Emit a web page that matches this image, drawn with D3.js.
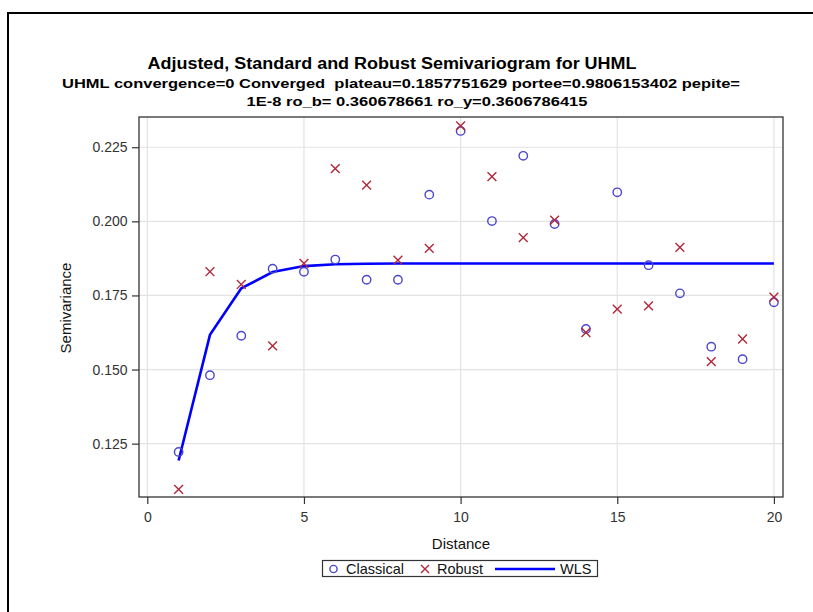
<!DOCTYPE html>
<html><head><meta charset="utf-8">
<script src="https://cdn.jsdelivr.net/npm/d3@7"></script>
<style>html,body{margin:0;padding:0;background:#fff;}svg{display:block;}text{white-space:pre;}</style>
</head><body>
<script>
const distances = [1,2,3,4,5,6,7,8,9,10,11,12,13,14,15,16,17,18,19,20];
const classical = [0.1222,0.1481,0.1614,0.1840,0.1830,0.1871,0.1803,0.1803,0.2090,0.2305,0.2001,0.2221,0.1991,0.1637,0.2098,0.1852,0.1757,0.1577,0.1535,0.1727];
const robust    = [0.1096,0.1830,0.1787,0.1580,0.1858,0.2178,0.2122,0.1869,0.1909,0.2322,0.2151,0.1945,0.2004,0.1625,0.1704,0.1715,0.1912,0.1527,0.1603,0.1744];
const wls       = [0.1193,0.1617,0.1774,0.1829,0.1849,0.1855,0.1857,0.1858,0.1858,0.1858,0.1858,0.1858,0.1858,0.1858,0.1858,0.1858,0.1858,0.1858,0.1858,0.1858];
const xTicks = [0,5,10,15,20];
const yTicks = [0.125,0.150,0.175,0.200,0.225];
const titleText = "Adjusted, Standard and Robust Semivariogram for UHML";
const subLine1 = "UHML convergence=0 Converged  plateau=0.1857751629 portee=0.9806153402 pepite=";
const subLine2 = "1E-8 ro_b= 0.360678661 ro_y=0.3606786415";
const legendLabels = ["Classical","Robust","WLS"];

const W = 813, H = 612;
const P = {left:139, top:117, right:783, bottom:497};
const font = "'Liberation Sans', Arial, sans-serif";
const cBlue = "#4a46cf", cRed = "#b0283a";

const svg = d3.select("body").append("svg").attr("width", W).attr("height", H);

// outer frame
svg.append("path").attr("d", `M8,${H} L8,13 L${W},13`).attr("fill","none").attr("stroke","#000").attr("stroke-width",2);

const x = d3.scaleLinear().domain([-0.265, 20.29]).range([P.left, P.right]);
const y = d3.scaleLinear().domain([0.1070, 0.2352]).range([P.bottom, P.top]);

// gridlines
const g = svg.append("g");
g.selectAll(".vg").data(xTicks).join("line")
  .attr("x1", d=>x(d)).attr("x2", d=>x(d)).attr("y1", P.top).attr("y2", P.bottom)
  .attr("stroke","#e3e3e3").attr("stroke-width",1.2);
g.selectAll(".hg").data(yTicks).join("line")
  .attr("x1", P.left).attr("x2", P.right).attr("y1", d=>y(d)).attr("y2", d=>y(d))
  .attr("stroke","#e3e3e3").attr("stroke-width",1.2);

// axes
const xAxis = d3.axisBottom(x).tickValues(xTicks).tickFormat(d3.format("d")).tickSize(7).tickSizeOuter(0);
const yAxis = d3.axisLeft(y).tickValues(yTicks).tickFormat(d3.format(".3f")).tickSize(7).tickSizeOuter(0);
const gx = svg.append("g").attr("transform", `translate(0,${P.bottom})`).call(xAxis);
const gy = svg.append("g").attr("transform", `translate(${P.left},0)`).call(yAxis);
[gx, gy].forEach(a => {
  a.select(".domain").remove();
  a.selectAll(".tick line").attr("stroke","#333").attr("stroke-width",1.2);
  a.selectAll(".tick text").attr("font-family", font).attr("font-size", 14).attr("fill","#333");
});
gx.selectAll(".tick text").attr("dy","1.05em");
gy.selectAll(".tick text").attr("dx","-0.1em");

// frame
svg.append("rect").attr("x",P.left).attr("y",P.top).attr("width",P.right-P.left).attr("height",P.bottom-P.top)
  .attr("fill","none").attr("stroke","#333").attr("stroke-width",1.3);

// WLS line
const line = d3.line().x((d,i)=>x(distances[i])).y(d=>y(d));
svg.append("path").datum(wls).attr("d", line).attr("fill","none").attr("stroke","#0000ff").attr("stroke-width",2.6);

// classical circles
svg.append("g").selectAll("circle").data(classical).join("circle")
  .attr("cx",(d,i)=>x(distances[i])).attr("cy",d=>y(d)).attr("r",4.2)
  .attr("fill","none").attr("stroke",cBlue).attr("stroke-width",1.4);

// robust X
const xs = 4.4;
svg.append("g").selectAll("path").data(robust).join("path")
  .attr("d",(d,i)=>{const cx=x(distances[i]), cy=y(d);
    return `M${cx-xs},${cy-xs}L${cx+xs},${cy+xs}M${cx-xs},${cy+xs}L${cx+xs},${cy-xs}`;})
  .attr("stroke",cRed).attr("stroke-width",1.4).attr("fill","none");

// titles
svg.append("text").attr("x",392).attr("y",69).attr("text-anchor","middle")
  .attr("font-family",font).attr("font-weight","bold").attr("font-size",16)
  .attr("textLength",489).attr("lengthAdjust","spacingAndGlyphs").attr("fill","#000").text(titleText);
svg.append("text").attr("x",401).attr("y",88).attr("text-anchor","middle")
  .attr("font-family",font).attr("font-weight","bold").attr("font-size",13)
  .attr("textLength",678).attr("lengthAdjust","spacingAndGlyphs").attr("fill","#000").text(subLine1);
svg.append("text").attr("x",417).attr("y",106).attr("text-anchor","middle")
  .attr("font-family",font).attr("font-weight","bold").attr("font-size",13)
  .attr("textLength",341).attr("lengthAdjust","spacingAndGlyphs").attr("fill","#000").text(subLine2);

// axis labels
svg.append("text").attr("x",461).attr("y",549).attr("text-anchor","middle")
  .attr("font-family",font).attr("font-size",15).attr("fill","#111").text("Distance");
svg.append("text").attr("transform","translate(71,308) rotate(-90)").attr("text-anchor","middle")
  .attr("font-family",font).attr("font-size",15).attr("fill","#111").text("Semivariance");

// legend
const lg = svg.append("g");
lg.append("rect").attr("x",322.5).attr("y",560.5).attr("width",275).attr("height",16)
  .attr("fill","#fff").attr("stroke","#333").attr("stroke-width",1.2);
const ly = 569;
lg.append("circle").attr("cx",333.5).attr("cy",ly).attr("r",3.6).attr("fill","none").attr("stroke",cBlue).attr("stroke-width",1.4);
lg.append("text").attr("x",346).attr("y",ly+5).attr("font-family",font).attr("font-size",14.5).attr("fill","#111").text(legendLabels[0]);
const lx=425, ls=4;
lg.append("path").attr("d",`M${lx-ls},${ly-ls}L${lx+ls},${ly+ls}M${lx-ls},${ly+ls}L${lx+ls},${ly-ls}`).attr("stroke",cRed).attr("stroke-width",1.4);
lg.append("text").attr("x",437).attr("y",ly+5).attr("font-family",font).attr("font-size",14.5).attr("fill","#111").text(legendLabels[1]);
lg.append("line").attr("x1",495).attr("x2",555).attr("y1",ly).attr("y2",ly).attr("stroke","#0000ff").attr("stroke-width",2.6);
lg.append("text").attr("x",560).attr("y",ly+5).attr("font-family",font).attr("font-size",14.5).attr("fill","#111").text(legendLabels[2]);
</script>
</body></html>
